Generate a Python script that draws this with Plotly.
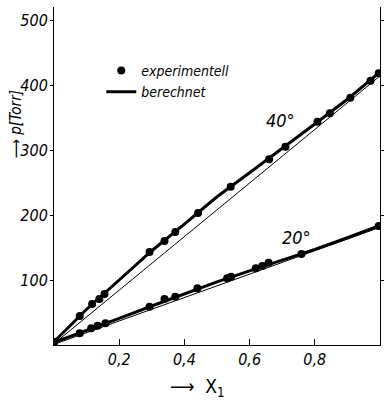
import plotly.graph_objects as go

# --- data ---
# 40 °C experimental points (x1, p in Torr)
x40_exp = [0.0, 0.079, 0.117, 0.139, 0.155, 0.293, 0.339, 0.372, 0.442,
           0.542, 0.660, 0.710, 0.808, 0.846, 0.909, 0.971, 0.996]
p40_exp = [5, 44.6, 63, 70.8, 78.5, 143, 160, 174, 203,
           243.5, 285.7, 305, 343.5, 356.5, 380.5, 406.6, 418]
# 20 °C experimental points
x20_exp = [0.0, 0.079, 0.114, 0.134, 0.158, 0.293, 0.339, 0.372, 0.440,
           0.531, 0.543, 0.619, 0.639, 0.658, 0.759, 0.996]
p20_exp = [4, 18, 25.7, 29.7, 33.4, 59, 70.8, 74.3, 87.2,
           102.6, 105, 118, 121.5, 126.6, 140, 183]
# calculated curves (thick)
x_calc = [0.0, 0.1, 0.2, 0.3, 0.4, 0.5, 0.6, 0.7, 0.8, 0.9, 1.0]
p40_calc = [5, 55, 100, 145, 186, 228, 265, 302, 340, 378, 420]
p20_calc = [4, 22, 41, 60, 79, 97, 114, 130, 147, 165, 184]
# ideal straight lines (thin)
x_ideal = [0.0, 1.0]
p40_ideal = [2, 414]
p20_ideal = [1, 181]

x_ticks = [0.2, 0.4, 0.6, 0.8]
x_ticklabels = ["0,2", "0,4", "0,6", "0,8"]
y_ticks = [100, 200, 300, 400, 500]

FONT = "DejaVu Sans Condensed, Liberation Sans Narrow, Arial Narrow, sans-serif"

fig = go.Figure()

# thin ideal lines
for xs, ys in [(x_ideal, p40_ideal), (x_ideal, p20_ideal)]:
    fig.add_trace(go.Scatter(x=xs, y=ys, mode="lines",
                             line=dict(color="black", width=1),
                             showlegend=False, hoverinfo="skip"))

# experimental points
fig.add_trace(go.Scatter(x=x40_exp, y=p40_exp, mode="markers",
                         marker=dict(color="black", size=8),
                         name="experimentell", legendrank=1))
fig.add_trace(go.Scatter(x=x20_exp, y=p20_exp, mode="markers",
                         marker=dict(color="black", size=8),
                         name="experimentell", showlegend=False))

# calculated thick lines
fig.add_trace(go.Scatter(x=x_calc, y=p40_calc, mode="lines",
                         line=dict(color="black", width=3),
                         name="berechnet", legendrank=2))
fig.add_trace(go.Scatter(x=x_calc, y=p20_calc, mode="lines",
                         line=dict(color="black", width=3),
                         name="berechnet", showlegend=False))

fig.update_layout(
    width=386, height=408,
    margin=dict(l=54, r=2, t=7, b=63),
    paper_bgcolor="white", plot_bgcolor="white",
    font=dict(family=FONT, color="black", size=16, style="italic"),
    legend=dict(x=0.145, y=0.858, xanchor="left", yanchor="top",
                bgcolor="rgba(0,0,0,0)", borderwidth=0,
                font=dict(family=FONT, size=14, style="italic"),
                itemwidth=30, tracegroupgap=0),
    xaxis=dict(range=[0, 1], showgrid=False, zeroline=False,
               showline=True, linecolor="black", linewidth=1,
               mirror=False, ticks="inside", ticklen=6, tickcolor="black",
               tickvals=x_ticks, ticktext=x_ticklabels,
               tickfont=dict(family=FONT, size=16, style="italic")),
    yaxis=dict(range=[0, 520], showgrid=False, zeroline=False,
               showline=True, linecolor="black", linewidth=1,
               mirror="ticks", ticks="outside", ticklen=3, tickcolor="black",
               tickvals=y_ticks, ticklabelstandoff=-1,
               tickfont=dict(family=FONT, size=16, style="italic")),
    annotations=[
        dict(text="40°", x=0.694, y=345, xref="x", yref="y",
             showarrow=False, font=dict(family=FONT, size=18, style="italic")),
        dict(text="20°", x=0.745, y=165, xref="x", yref="y",
             showarrow=False, font=dict(family=FONT, size=18, style="italic")),
        dict(text="⟶ p[Torr]", x=-0.118, y=0.651, xref="paper", yref="paper",
             xanchor="center", yanchor="middle",
             textangle=-90, showarrow=False,
             font=dict(family=FONT, size=15, style="italic")),
        dict(text="⟶  X<sub>1</sub>", x=0.44, y=-0.127, xref="paper", yref="paper",
             xanchor="center", yanchor="middle",
             showarrow=False, font=dict(family=FONT, size=19, style="normal")),
    ],
)

fig.write_html("out.html")
